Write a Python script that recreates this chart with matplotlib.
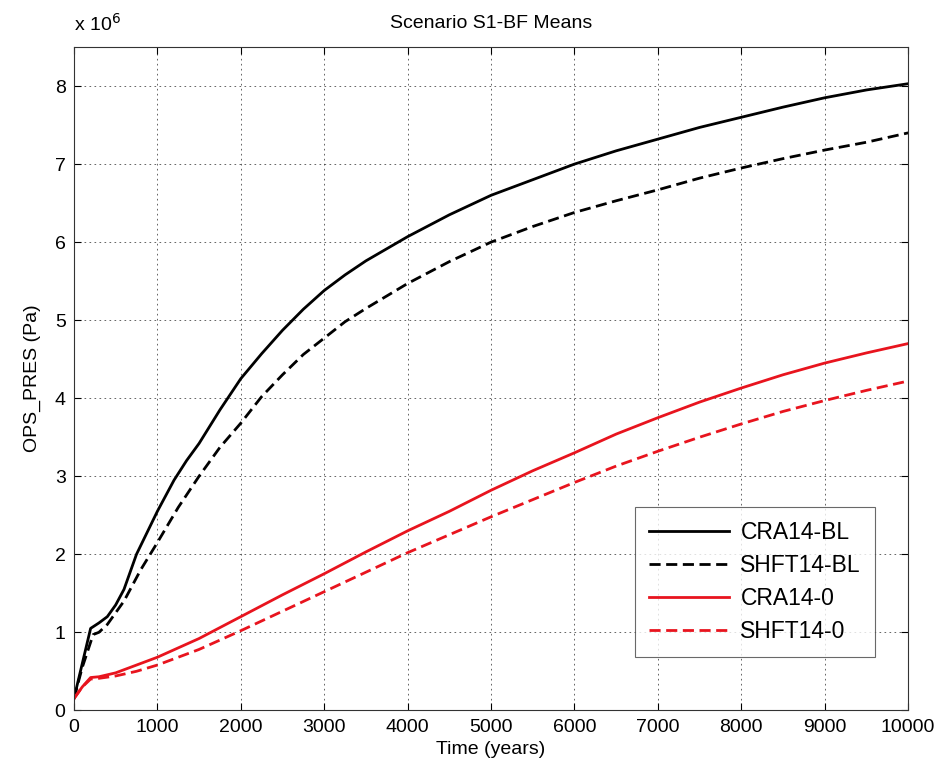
import matplotlib
matplotlib.use("Agg")
import matplotlib.pyplot as plt
import numpy as np

plt.rcParams['font.family'] = ['Liberation Sans', 'DejaVu Sans']

# Data (pressure in units of 1e6 Pa)
t_cra_bl = [0, 100, 200, 300, 400, 500, 600, 750, 1000, 1200, 1350, 1500, 1750, 2000, 2250, 2500, 2750,
            3000, 3250, 3500, 4000, 4500, 5000, 5500, 6000, 6500, 7000, 7500, 8000, 8500, 9000,
            9500, 10000]
cra_bl = [0.15, 0.6, 1.05, 1.12, 1.2, 1.35, 1.55, 2.0, 2.55, 2.95, 3.2, 3.42, 3.85, 4.25, 4.57, 4.87, 5.14,
          5.38, 5.58, 5.76, 6.07, 6.35, 6.6, 6.8, 7.0, 7.17, 7.32, 7.47, 7.6, 7.73, 7.85,
          7.95, 8.03]

t_shft_bl = [0, 100, 230, 300, 400, 500, 600, 800, 1000, 1250, 1500, 1750, 2000, 2250, 2500, 2750,
             3000, 3250, 3500, 4000, 4500, 5000, 5500, 6000, 6500, 7000, 7500, 8000, 8500, 9000,
             9500, 10000]
shft_bl = [0.15, 0.55, 0.97, 1.0, 1.1, 1.25, 1.4, 1.8, 2.15, 2.6, 3.0, 3.37, 3.68, 4.02, 4.3, 4.56,
           4.77, 4.98, 5.15, 5.47, 5.75, 6.0, 6.2, 6.38, 6.53, 6.67, 6.82, 6.95, 7.07, 7.18,
           7.28, 7.4]

t_red = [0, 100, 200, 300, 500, 750, 1000, 1500, 2000, 2500, 3000, 3500, 4000, 4500, 5000,
         5500, 6000, 6500, 7000, 7500, 8000, 8500, 9000, 9500, 10000]
cra_0 = [0.15, 0.3, 0.42, 0.43, 0.48, 0.58, 0.68, 0.92, 1.2, 1.48, 1.75, 2.03, 2.3, 2.55, 2.82,
         3.07, 3.3, 3.54, 3.75, 3.95, 4.13, 4.3, 4.45, 4.58, 4.7]
shft_0 = [0.15, 0.3, 0.4, 0.41, 0.44, 0.5, 0.58, 0.78, 1.02, 1.27, 1.52, 1.77, 2.02, 2.25, 2.48,
          2.7, 2.92, 3.13, 3.32, 3.5, 3.67, 3.83, 3.97, 4.1, 4.22]

labels = ["CRA14-BL", "SHFT14-BL", "CRA14-0", "SHFT14-0"]
xticks = list(range(0, 10001, 1000))
yticks = list(range(0, 9))

fig = plt.figure(figsize=(9.48, 7.84), dpi=100)
ax = fig.add_axes([0.078, 0.094, 0.880, 0.846])

lw = 2.0
ax.plot(t_cra_bl, cra_bl, color='black', lw=lw, ls='-', label=labels[0])
ax.plot(t_shft_bl, shft_bl, color='black', lw=lw, ls=(0, (4, 2)), label=labels[1])
ax.plot(t_red, cra_0, color='#e8141e', lw=lw, ls='-', label=labels[2])
ax.plot(t_red, shft_0, color='#e8141e', lw=lw, ls=(0, (4, 2)), label=labels[3])

ax.set_xlim(0, 10000)
ax.set_ylim(0, 8.5)
ax.set_xticks(xticks)
ax.set_yticks(yticks)
ax.set_xticklabels([str(v) for v in xticks])
ax.set_yticklabels([str(v) for v in yticks])
ax.tick_params(direction='in', labelsize=14, length=5, top=True, right=True, pad=6)
ax.grid(True, color='black', ls=(0, (2, 4)), lw=0.6, alpha=0.7)
for s in ax.spines.values():
    s.set_linewidth(0.8)
    s.set_color('#333333')

ax.set_xlabel("Time (years)", fontsize=14, labelpad=4)
ax.set_ylabel("OPS_PRES (Pa)", fontsize=14, labelpad=10)
ax.set_title("Scenario S1-BF Means", fontsize=14, pad=14)
fig.text(0.078, 0.955, r"x 10$^{6}$", fontsize=14, ha='left', va='bottom')

leg = ax.legend(loc='lower right', bbox_to_anchor=(0.960, 0.080), fontsize=16.5, frameon=True,
                fancybox=False, edgecolor='#444444', handlelength=3.5, borderpad=0.6,
                labelspacing=0.45, handletextpad=0.5, borderaxespad=0)
leg.get_frame().set_linewidth(0.8)

fig.savefig("out.png", dpi=100)
